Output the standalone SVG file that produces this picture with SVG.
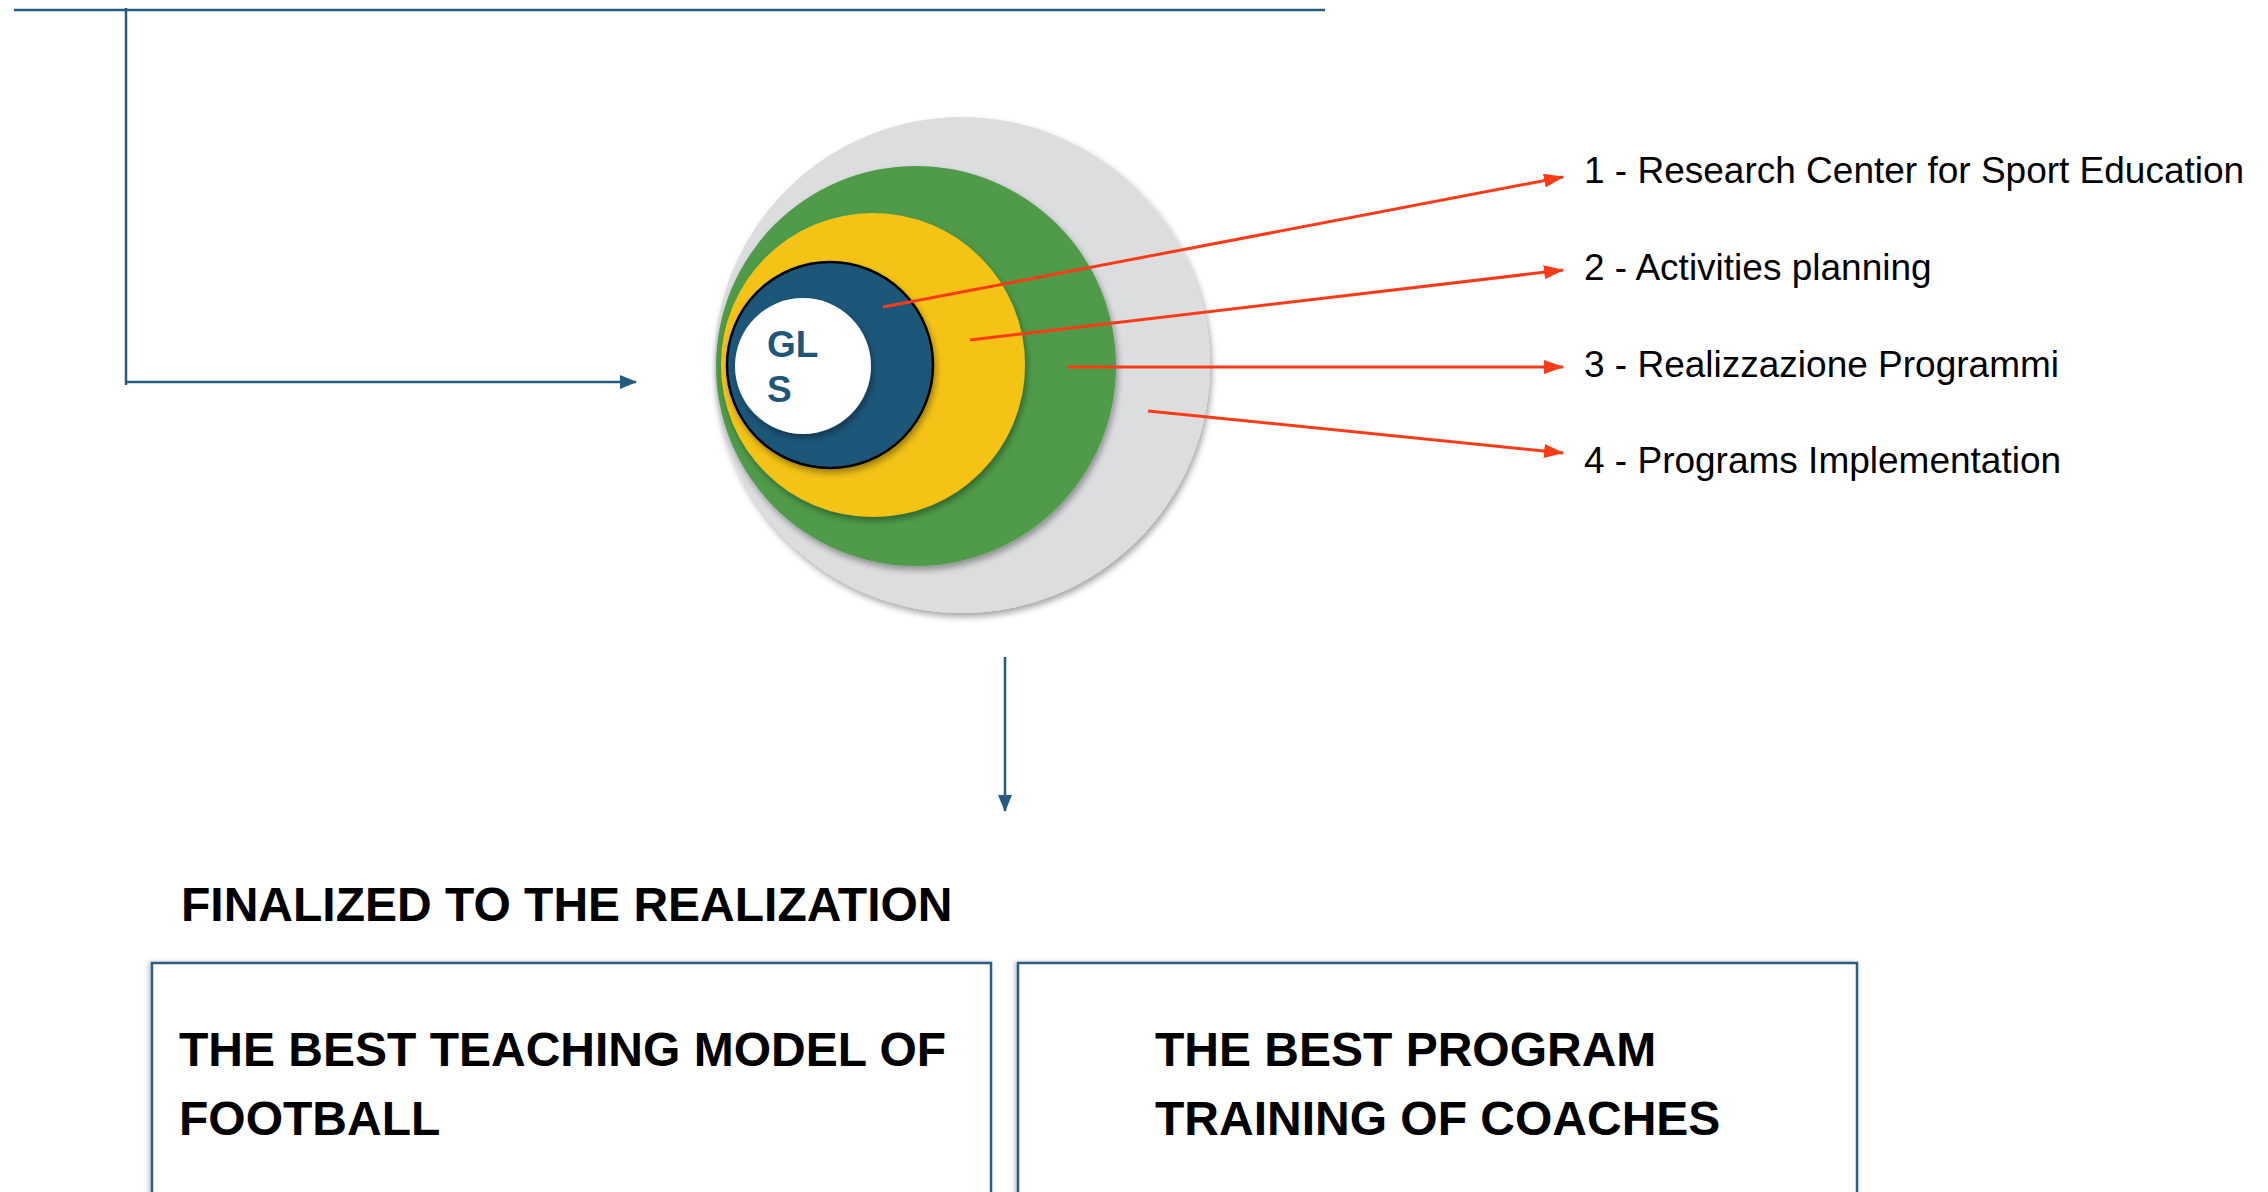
<svg xmlns="http://www.w3.org/2000/svg" width="2268" height="1192" viewBox="0 0 2268 1192">
<style>
.lbl{font-family:"Liberation Sans",Arial,sans-serif;font-size:37px;fill:#000}
.bold{font-family:"Liberation Sans",Arial,sans-serif;font-size:48px;font-weight:bold;fill:#000}
.gls{font-family:"Liberation Sans",Arial,sans-serif;font-size:37px;font-weight:bold;fill:#1f5779}
.blue{stroke:#245b80;stroke-width:2.5;fill:none}
.red{stroke:#ff3a17;stroke-width:3;fill:none}
.box{fill:#fff;stroke:#2c5f85;stroke-width:2.5}
</style>
<defs>
<filter id="sh" x="-20%" y="-20%" width="140%" height="140%">
<feDropShadow dx="2" dy="4" stdDeviation="3" flood-color="#000" flood-opacity="0.35"/>
</filter>
<filter id="bsh" x="-5%" y="-5%" width="110%" height="110%">
<feDropShadow dx="-2" dy="0" stdDeviation="2" flood-color="#000" flood-opacity="0.25"/>
</filter>
<marker id="ar" markerUnits="userSpaceOnUse" markerWidth="20" markerHeight="14" refX="19" refY="7" orient="auto">
<path d="M0,0 L20,7 L0,14 z" fill="#ff3a17"/>
</marker>
<marker id="ab" markerUnits="userSpaceOnUse" markerWidth="17" markerHeight="14" refX="16" refY="7" orient="auto">
<path d="M0,0 L17,7 L0,14 z" fill="#245b80"/>
</marker>
</defs>

<g id="frame">
<line class="blue" x1="14" y1="10" x2="1325" y2="10"/>
<line class="blue" x1="126" y1="8" x2="126" y2="385"/>
</g>

<g id="circles">
<circle cx="962" cy="365" r="248" fill="#dcdddf" filter="url(#sh)"/>
<circle cx="916" cy="366" r="200" fill="#509b4a" filter="url(#sh)"/>
<circle cx="873" cy="365" r="152" fill="#f4c319" filter="url(#sh)"/>
<circle cx="830" cy="365" r="103" fill="#1f5779" stroke="#000" stroke-width="2.5" filter="url(#sh)"/>
<circle cx="803" cy="366" r="68" fill="#fff" filter="url(#sh)"/>
<text class="gls" x="767" y="357">GL</text>
<text class="gls" x="767" y="402">S</text>
</g>

<g id="labels">
<text class="lbl" x="1584" y="183">1 - Research Center for Sport Education</text>
<text class="lbl" x="1584" y="280">2 - Activities planning</text>
<text class="lbl" x="1584" y="377">3 - Realizzazione Programmi</text>
<text class="lbl" x="1584" y="473">4 - Programs Implementation</text>
</g>

<g id="connectors">
<line class="blue" x1="126" y1="382" x2="636" y2="382" marker-end="url(#ab)"/>
<line class="blue" x1="1005" y1="657" x2="1005" y2="811" stroke-width="2" marker-end="url(#ab)"/>
<line class="red" x1="883" y1="307" x2="1563" y2="177" marker-end="url(#ar)"/>
<line class="red" x1="970" y1="340" x2="1563" y2="270" marker-end="url(#ar)"/>
<line class="red" x1="1067" y1="367" x2="1563" y2="367" marker-end="url(#ar)"/>
<line class="red" x1="1148" y1="411" x2="1563" y2="453" marker-end="url(#ar)"/>
</g>

<g id="title">
<text class="bold" x="181" y="921">FINALIZED TO THE REALIZATION</text>
</g>

<g id="box1">
<rect class="box" x="152" y="963" width="839" height="260" filter="url(#bsh)"/>
<text class="bold" x="179" y="1066">THE BEST TEACHING MODEL OF</text>
<text class="bold" x="179" y="1135">FOOTBALL</text>
</g>

<g id="box2">
<rect class="box" x="1018" y="963" width="839" height="260" filter="url(#bsh)"/>
<text class="bold" x="1155" y="1066">THE BEST PROGRAM</text>
<text class="bold" x="1155" y="1135">TRAINING OF COACHES</text>
</g>
</svg>
